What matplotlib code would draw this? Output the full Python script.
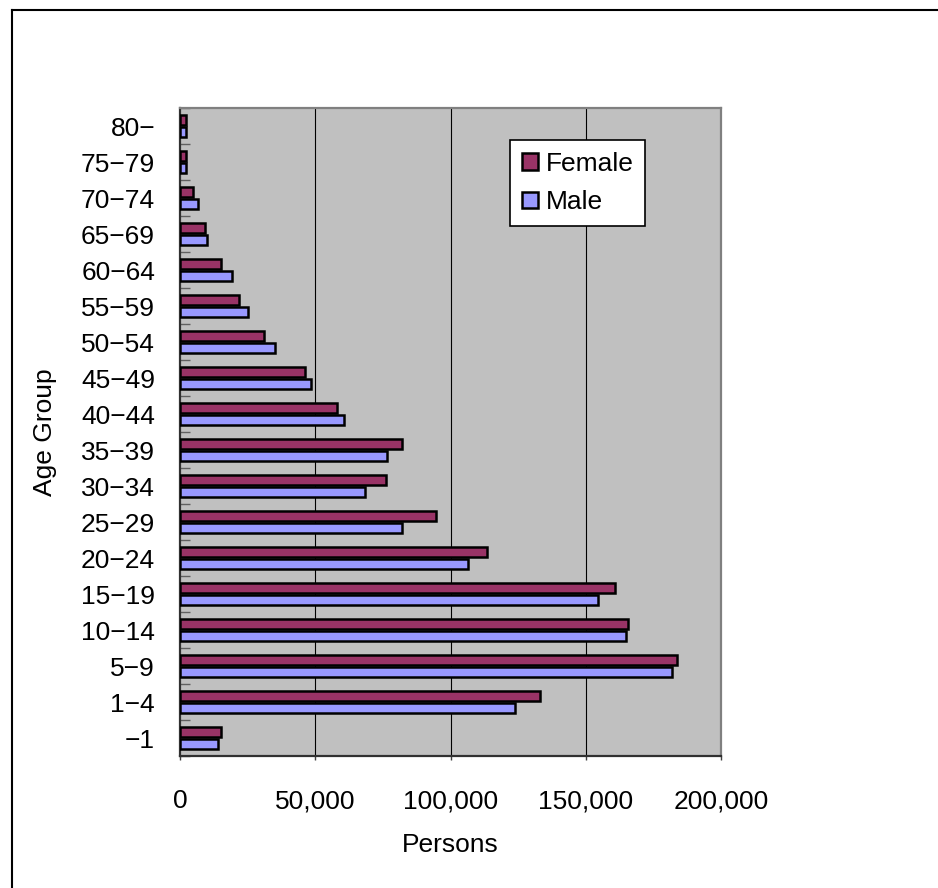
import matplotlib
matplotlib.use("Agg")
import matplotlib.pyplot as plt
from matplotlib.lines import Line2D
from matplotlib.ticker import FuncFormatter, FixedLocator
import numpy as np

plt.rcParams['font.family'] = ['Liberation Sans', 'DejaVu Sans']

# Age groups, youngest first (drawn bottom to top)
age_groups = ["\u22121", "1\u22124", "5\u22129", "10\u221214", "15\u221219", "20\u221224",
              "25\u221229", "30\u221234", "35\u221239", "40\u221244", "45\u221249", "50\u221254",
              "55\u221259", "60\u221264", "65\u221269", "70\u221274", "75\u221279", "80\u2212"]
female = [15000, 133200, 183600, 165600, 160700, 113500, 94700, 76100, 82200, 58100,
          46300, 31000, 21800, 15000, 9200, 4900, 2200, 2200]
male = [14200, 123700, 181800, 164800, 154700, 106600, 82100, 68400, 76700, 60600,
        48600, 35200, 25100, 19200, 9900, 6600, 2200, 2200]
x_ticks = [0, 50000, 100000, 150000, 200000]

FS = 19

W, H = 938, 888
fig = plt.figure(figsize=(W / 100, H / 100), dpi=100)
fig.patch.set_facecolor("white")

# Plot area in pixel terms
L, R, T, B = 180, 721, 108, 756
ax = fig.add_axes([L / W, 1 - B / H, (R - L) / W, (B - T) / H])
ax.set_facecolor("#C0C0C0")

y = np.arange(len(age_groups))
bh = 0.27
off = 0.16
ax.barh(y + off, female, height=bh, color="#993366", edgecolor="black",
        linewidth=1.8, label="Female", zorder=3)
ax.barh(y - off, male, height=bh, color="#9999FF", edgecolor="black",
        linewidth=1.8, label="Male", zorder=3)

ax.set_xlim(0, 200000)
ax.set_ylim(-0.5, len(age_groups) - 0.5)

# Vertical gridlines
for v in x_ticks[1:-1]:
    ax.axvline(v, color="black", linewidth=0.8, zorder=1)

ax.set_xticks(x_ticks)
ax.xaxis.set_major_formatter(FuncFormatter(lambda v, p: f"{int(v):,}"))
ax.tick_params(axis="x", direction="out", length=3, width=1, color="#404040",
               pad=21, labelsize=FS)

ax.set_yticks(y)
ax.set_yticklabels(age_groups)
ax.tick_params(axis="y", which="major", length=0, pad=18, labelsize=FS)
ax.yaxis.set_minor_locator(FixedLocator(np.arange(-0.5, len(age_groups), 1.0)))
ax.tick_params(axis="y", which="minor", direction="in", length=7, width=1,
               color="#606060")

for s in ("left", "bottom"):
    ax.spines[s].set_color("#303030")
    ax.spines[s].set_linewidth(1.6)
for s in ("top", "right"):
    ax.spines[s].set_color("#808080")
    ax.spines[s].set_linewidth(1.6)

fig.text(450 / W, 1 - 845 / H, "Persons", ha="center", va="center", fontsize=FS)
fig.text(45 / W, 1 - 432 / H, "Age Group", ha="center", va="center",
         rotation=90, fontsize=FS)

leg = ax.legend(loc="upper left", bbox_to_anchor=(510 / W, 1 - 140 / H),
                bbox_transform=fig.transFigure, fontsize=FS, frameon=True,
                fancybox=False, shadow=False, handlelength=0.6, handleheight=0.6,
                handletextpad=0.3, labelspacing=0.55, borderpad=0.45,
                borderaxespad=0)
leg.get_frame().set_edgecolor("black")
leg.get_frame().set_linewidth(1.2)
leg.get_frame().set_facecolor("white")
leg.get_frame().set_alpha(1)

# Figure frame: left and top edges
fig.add_artist(Line2D([12 / W, 12 / W], [0, 1 - 10 / H], transform=fig.transFigure,
                      color="black", linewidth=1.5))
fig.add_artist(Line2D([12 / W, 1], [1 - 10 / H, 1 - 10 / H], transform=fig.transFigure,
                      color="black", linewidth=1.5))

fig.savefig("out.png", dpi=100)
